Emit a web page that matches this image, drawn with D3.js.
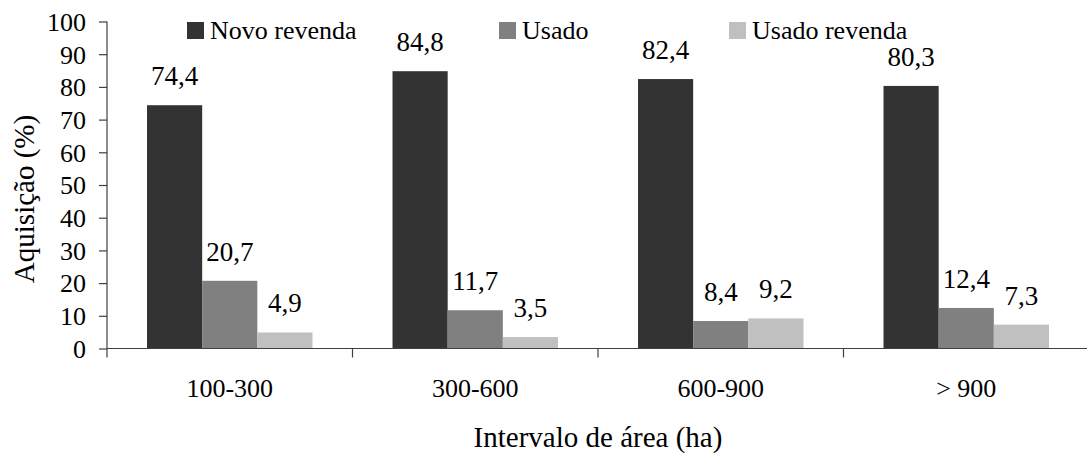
<!DOCTYPE html>
<html>
<head>
<meta charset="utf-8">
<script src="https://cdn.jsdelivr.net/npm/d3@7"></script>
<style>
  html, body { margin: 0; padding: 0; background: #fff; }
  svg { display: block; }
  text { font-family: "Liberation Serif", "Times New Roman", serif; fill: #000; }
</style>
</head>
<body>
<svg id="chart" width="1087" height="453"></svg>
<script>
const categories = ["100-300", "300-600", "600-900", "> 900"];
const seriesNames = ["Novo revenda", "Usado", "Usado revenda"];
const novoRevenda = [74.4, 84.8, 82.4, 80.3];
const usado = [20.7, 11.7, 8.4, 12.4];
const usadoRevenda = [4.9, 3.5, 9.2, 7.3];
const yTicks = [0, 10, 20, 30, 40, 50, 60, 70, 80, 90, 100];
const colors = ["#333333", "#808080", "#c0c0c0"];

const seriesValues = [novoRevenda, usado, usadoRevenda];
const fmt = v => v.toFixed(1).replace(".", ",");
const FF = '"Liberation Serif", "Times New Roman", serif';

const svg = d3.select("#chart");
const pLeft = 107, pRight = 1089, pTop = 21.5, pBottom = 348.5;

const y = d3.scaleLinear().domain([0, 100]).range([pBottom, pTop]);
const x0 = d3.scaleBand().domain(categories).range([pLeft, pRight]).paddingInner(0).paddingOuter(0);
const bw = x0.bandwidth();
const pad = bw * 0.163;
const x1 = d3.scaleBand().domain(seriesNames).range([pad, bw - pad]).padding(0);

function smallText(sel) {
  return sel.style("font-family", FF).style("font-size", "26px");
}

// bars
const groups = svg.append("g").selectAll("g")
  .data(categories)
  .join("g")
  .attr("transform", c => `translate(${x0(c)},0)`);

groups.selectAll("rect")
  .data((c, i) => seriesNames.map((s, j) => ({ s, j, v: seriesValues[j][i] })))
  .join("rect")
  .attr("x", d => x1(d.s))
  .attr("width", x1.bandwidth())
  .attr("y", d => y(d.v))
  .attr("height", d => y(0) - y(d.v))
  .attr("fill", d => colors[d.j]);

groups.selectAll("text.val")
  .data((c, i) => seriesNames.map((s, j) => ({ s, j, v: seriesValues[j][i] })))
  .join("text")
  .attr("class", "val")
  .attr("x", d => x1(d.s) + x1.bandwidth() / 2)
  .attr("y", d => y(d.v) - 20)
  .attr("text-anchor", "middle")
  .style("font-family", FF).style("font-size", "27px")
  .text(d => fmt(d.v));

// y axis
const yAxis = d3.axisLeft(y).tickValues(yTicks).tickSize(8).tickPadding(6);
const gy = svg.append("g").attr("transform", `translate(${pLeft},0)`).call(yAxis);
gy.select(".domain").remove();
gy.selectAll("line").attr("stroke", "#404040").attr("stroke-width", 1.2);
gy.selectAll("text")
  .call(smallText)
  .attr("x", -21)
  .attr("dy", "0.34em");
svg.append("line").attr("x1", pLeft).attr("x2", pLeft).attr("y1", pTop).attr("y2", pBottom + 9)
  .attr("stroke", "#404040").attr("stroke-width", 1.2);

// x axis
svg.append("line").attr("x1", pLeft).attr("x2", pRight).attr("y1", pBottom).attr("y2", pBottom)
  .attr("stroke", "#404040").attr("stroke-width", 1.2);
const boundaries = categories.map(c => x0(c)).concat([pRight]);
svg.append("g").selectAll("line").data(boundaries.slice(1)).join("line")
  .attr("x1", d => d).attr("x2", d => d).attr("y1", pBottom).attr("y2", pBottom + 9)
  .attr("stroke", "#404040").attr("stroke-width", 1.2);
svg.append("g").selectAll("text").data(categories).join("text")
  .attr("x", c => x0(c) + bw / 2)
  .attr("y", 397)
  .attr("text-anchor", "middle")
  .call(smallText)
  .text(c => c);

// titles
svg.append("text").attr("x", (pLeft + pRight) / 2).attr("y", 447)
  .attr("text-anchor", "middle").style("font-family", FF).style("font-size", "29px")
  .text("Intervalo de área (ha)");
svg.append("text").attr("transform", "translate(33.5,199) rotate(-90)")
  .attr("text-anchor", "middle").style("font-family", FF).style("font-size", "29px")
  .text("Aquisição (%)");

// legend
const legendX = [187, 499, 729];
const lg = svg.append("g").selectAll("g").data(seriesNames).join("g")
  .attr("transform", (d, i) => `translate(${legendX[i]},22)`);
lg.append("rect").attr("width", 17).attr("height", 17).attr("fill", (d, i) => colors[i]);
lg.append("text").attr("x", 23).attr("y", 17)
  .call(smallText).text(d => d);
</script>
</body>
</html>
